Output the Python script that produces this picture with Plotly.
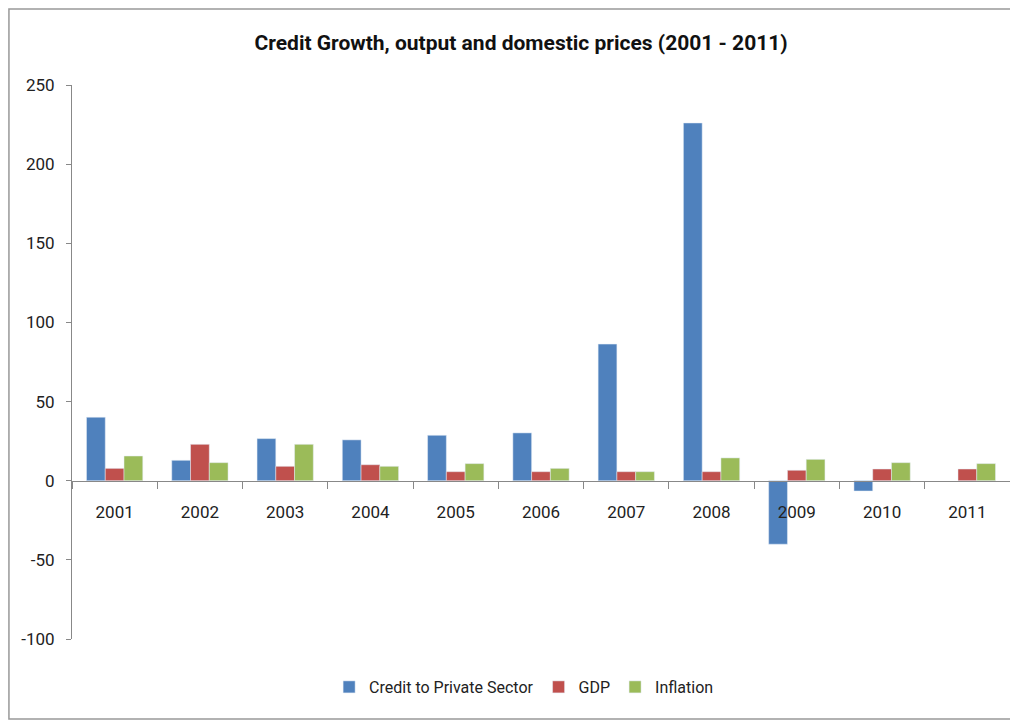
import plotly.graph_objects as go

years = ["2001", "2002", "2003", "2004", "2005", "2006", "2007", "2008", "2009", "2010", "2011"]
credit = [40.1, 12.9, 26.6, 25.8, 28.7, 30.2, 86.3, 226.0, -40.1, -6.5, None]
gdp = [7.8, 23.0, 9.1, 10.1, 5.7, 5.7, 5.7, 5.7, 6.6, 7.4, 7.4]
inflation = [15.6, 11.4, 23.0, 9.1, 10.8, 7.8, 5.7, 14.4, 13.5, 11.4, 10.8]
y_ticks = [-100, -50, 0, 50, 100, 150, 200, 250]
y_labels = ["-100", "-50", "0", "50", "100", "150", "200", "250"]

FONT = "Roboto, Arial, sans-serif"
# page body has an 8px margin, so the figure is a bit smaller than the window
W, H = 1010, 715
ML, MR, MT, MB = 64, 8, 77, 84
YMIN, YMAX = -100, 250

fig = go.Figure()
fig.add_trace(go.Bar(x=years, y=credit, name="Credit to Private Sector", marker_color="#4F81BD"))
fig.add_trace(go.Bar(x=years, y=gdp, name="GDP", marker_color="#C0504D"))
fig.add_trace(go.Bar(x=years, y=inflation, name="Inflation", marker_color="#9BBB59"))

pw, ph = W - ML - MR, H - MT - MB
zero_pos = (0 - YMIN) / (YMAX - YMIN)

fig.update_layout(
    width=W, height=H,
    margin=dict(l=ML, r=MR, t=MT, b=MB, autoexpand=False),
    barmode="group", bargap=0.34, bargroupgap=0,
    plot_bgcolor="white", paper_bgcolor="white",
    font=dict(family=FONT, size=16, color="#222"),
    title=dict(text="<b>Credit Growth, output and domestic prices (2001 - 2011)</b>",
               x=0.508, xanchor="center", y=1 - 35 / H, yanchor="middle",
               font=dict(size=21, family=FONT, color="#111")),
    legend=dict(orientation="h", x=0.482, xanchor="center", y=-(679 - (H - MB)) / ph,
                yanchor="middle", font=dict(size=16), itemwidth=30, traceorder="normal"),
    xaxis=dict(anchor="free", position=zero_pos, showline=True, linecolor="#888", linewidth=1,
               ticks="outside", tickson="boundaries", ticklen=7, tickcolor="#888",
               showgrid=False, tickfont=dict(size=17), ticklabelstandoff=16),
    yaxis=dict(range=[YMIN, YMAX], tickvals=y_ticks, ticktext=y_labels, showline=True,
               linecolor="#888", linewidth=1, ticks="outside", ticklen=5, tickcolor="#888",
               showgrid=False, zeroline=False, tickfont=dict(size=17), ticklabelstandoff=8),
)

fig.add_shape(type="rect", xref="paper", yref="paper",
              x0=-ML / pw + 0.001, x1=1 + (MR - 1) / pw,
              y0=-(MB - 4) / ph, y1=1 + (MT - 1) / ph,
              line=dict(color="#999", width=1.5), fillcolor="rgba(0,0,0,0)", layer="below")

fig.write_html("out.html")
